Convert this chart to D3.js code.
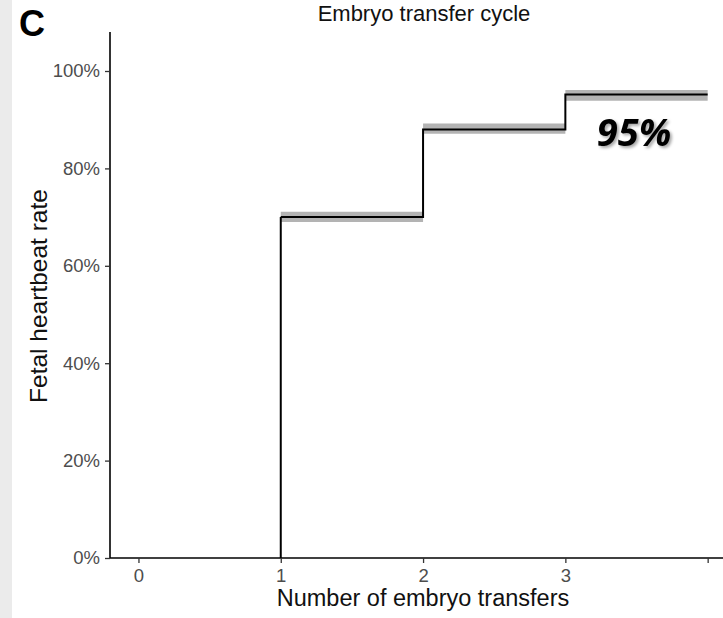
<!DOCTYPE html>
<html>
<head>
<meta charset="utf-8">
<script src="https://cdn.jsdelivr.net/npm/d3@7"></script>
<style>
  body { margin: 0; background: #fff; }
  svg { display: block; }
</style>
</head>
<body>
<script>
// step data
const transfers = [0, 1, 2, 3, 4];
const rate = [0, 0.700, 0.880, 0.952, 0.952];
const lower = [0, 0.690, 0.871, 0.939, 0.939];
const upper = [0, 0.711, 0.892, 0.961, 0.961];

const yTicks = [0, 0.2, 0.4, 0.6, 0.8, 1.0];
const xTicks = [0, 1, 2, 3, 4];
const xTickLabels = ["0", "1", "2", "3", ""];

const W = 723, H = 618;
const font = "Liberation Sans, Arial, sans-serif";

const svg = d3.select("body").append("svg")
    .attr("width", W)
    .attr("height", H);

// grey strip on the left edge
svg.append("rect")
    .attr("x", 0).attr("y", 0)
    .attr("width", 12).attr("height", H)
    .attr("fill", "#ebebeb");

const x = d3.scaleLinear()
    .domain([-0.2, 4.2])
    .range([110, 110 + 4.4 * 142.3]);
const y = d3.scaleLinear()
    .domain([0, 1])
    .range([558, 71]);

const pts = transfers.map((t, i) => ({t: t, r: rate[i], lo: lower[i], hi: upper[i]}));

const defs = svg.append("defs");
const sh = defs.append("filter").attr("id", "shadow")
    .attr("x", "-20%").attr("y", "-20%").attr("width", "140%").attr("height", "140%");
sh.append("feDropShadow")
    .attr("dx", 2).attr("dy", 2).attr("stdDeviation", 1.5)
    .attr("flood-color", "#000").attr("flood-opacity", 0.35);

// confidence band
const band = d3.area()
    .x(d => x(d.t))
    .y0(d => y(d.lo))
    .y1(d => y(d.hi))
    .curve(d3.curveStepAfter);
svg.append("path")
    .datum(pts)
    .attr("d", band)
    .attr("fill", "#9a9a9a")
    .attr("opacity", 0.75);

// axes
const yAxis = d3.axisLeft(y)
    .tickValues(yTicks)
    .tickFormat(d3.format(".0%"))
    .tickSize(5)
    .tickPadding(5);
const gy = svg.append("g")
    .attr("transform", "translate(110,0)")
    .call(yAxis);
gy.select(".domain").attr("d", "M0,32V558").attr("stroke", "#000").attr("stroke-width", 1.6);

const xAxis = d3.axisBottom(x)
    .tickValues(xTicks)
    .tickFormat((d, i) => xTickLabels[i])
    .tickSize(5)
    .tickPadding(6);
const gx = svg.append("g")
    .attr("transform", "translate(0,558)")
    .call(xAxis);
gx.select(".domain").attr("d", `M110,0H${W + 5}`).attr("stroke", "#000").attr("stroke-width", 1.6);

[gx, gy].forEach(g => {
  g.selectAll(".tick line").attr("stroke", "#333").attr("stroke-width", 1.3);
  g.selectAll(".tick text")
      .attr("fill", "#4d4d4d")
      .attr("font-family", font)
      .attr("font-size", 18.5);
});

// step line
const line = d3.line()
    .x(d => x(d.t))
    .y(d => y(d.r))
    .curve(d3.curveStepAfter);
svg.append("path")
    .datum(pts.slice(1))
    .attr("d", line)
    .attr("fill", "none")
    .attr("stroke", "#000")
    .attr("stroke-width", 2);
// rise from 0 at the first transfer
svg.append("line")
    .attr("x1", x(1)).attr("x2", x(1))
    .attr("y1", y(0)).attr("y2", y(rate[1]))
    .attr("stroke", "#000")
    .attr("stroke-width", 2);

// texts
svg.append("text")
    .attr("x", 424).attr("y", 21)
    .attr("text-anchor", "middle")
    .attr("font-family", font)
    .attr("font-size", 22)
    .attr("fill", "#111")
    .text("Embryo transfer cycle");

svg.append("text")
    .attr("x", 423).attr("y", 606)
    .attr("text-anchor", "middle")
    .attr("font-family", font)
    .attr("font-size", 23.5)
    .attr("fill", "#111")
    .text("Number of embryo transfers");

svg.append("text")
    .attr("transform", "translate(47,296) rotate(-90)")
    .attr("text-anchor", "middle")
    .attr("font-family", font)
    .attr("font-size", 24.5)
    .attr("fill", "#111")
    .text("Fetal heartbeat rate");

svg.append("text")
    .attr("x", 19).attr("y", 36)
    .attr("font-family", font)
    .attr("font-weight", "bold")
    .attr("font-size", 36)
    .attr("fill", "#000")
    .text("C");

svg.append("text")
    .attr("x", 634).attr("y", 146)
    .attr("text-anchor", "middle")
    .attr("font-family", "Open Sans, Lato, sans-serif")
    .attr("font-weight", "bold")
    .attr("font-style", "italic")
    .attr("font-size", 38)
    .attr("fill", "#000")
    .attr("filter", "url(#shadow)")
    .text("95%");
</script>
</body>
</html>
